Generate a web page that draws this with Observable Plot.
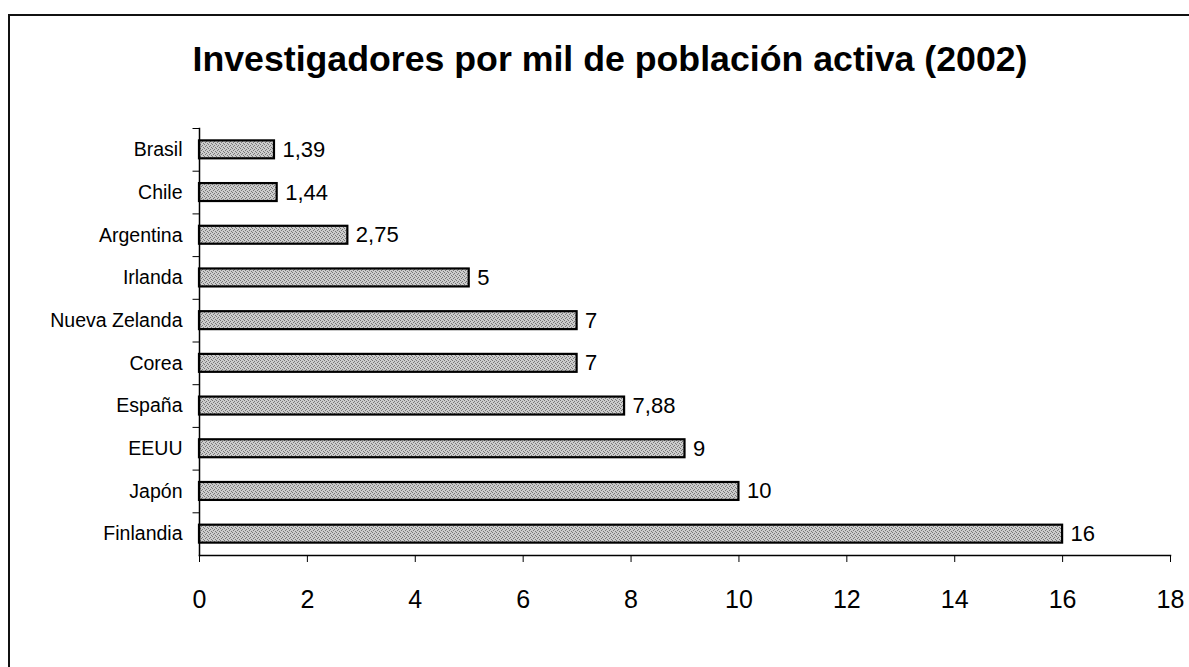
<!DOCTYPE html>
<html>
<head>
<meta charset="utf-8">
<script src="https://cdn.jsdelivr.net/npm/d3@7"></script>
<script src="https://cdn.jsdelivr.net/npm/@observablehq/plot@0.6"></script>
<style>
  html, body { margin: 0; padding: 0; background: #fff; width: 1189px; height: 667px; overflow: hidden; }
  #wrap { position: relative; width: 1189px; height: 667px; font-family: "Liberation Sans", Arial, sans-serif; }
  #border { position: absolute; left: 8px; top: 14px; width: 1300px; height: 800px; border-left: 2px solid #111; border-top: 2px solid #111; }
  #title { position: absolute; left: 0; top: 0; width: 1189px; height: 100px; box-sizing: border-box; padding-left: 31px; text-align: center; font-weight: bold; font-size: 35.7px; line-height: 36px; padding-top: 41px; color: #000; white-space: nowrap; }
  #chart { position: absolute; left: 0; top: 100px; }
</style>
</head>
<body>
<div id="wrap">
  <div id="border"></div>
  <div id="title">Investigadores por mil de población activa (2002)</div>
  <div id="chart"></div>
</div>
<script>
const countries = ["Brasil", "Chile", "Argentina", "Irlanda", "Nueva Zelanda", "Corea", "España", "EEUU", "Japón", "Finlandia"];
const values = [1.39, 1.44, 2.75, 5, 7, 7, 7.88, 9, 10, 16];
const xTicks = [0, 2, 4, 6, 8, 10, 12, 14, 16, 18];

const data = countries.map((c, i) => ({country: c, value: values[i], label: String(values[i]).replace(".", ",")}));

const H = 567, mTop = 28, mBottom = 112;
const bandW = (H - mTop - mBottom) / countries.length;

const plot = Plot.plot({
  width: 1189,
  height: H,
  marginLeft: 199,
  marginRight: 19,
  marginTop: mTop,
  marginBottom: mBottom,
  style: {fontFamily: "'Liberation Sans', Arial, sans-serif", background: "transparent", color: "#000"},
  x: {domain: [0, 18], label: null},
  y: {domain: countries, paddingInner: 0.58, paddingOuter: 0.29, round: false, label: null},
  marks: [
    Plot.barX(data, {x: "value", y: "country", fill: "url(#stipple)", stroke: "#000", strokeWidth: 2.2}),
    Plot.text(data, {x: "value", y: "country", text: "label", textAnchor: "start", dx: 8, fontSize: 22, fill: "#000"}),
    Plot.ruleY(countries, {y: d => d, x1: -0.12, x2: 0, dy: -bandW / 2, stroke: "#000", strokeWidth: 1}),
    Plot.frame({anchor: "left", stroke: "#000", strokeWidth: 1.5}),
    Plot.frame({anchor: "bottom", stroke: "#000", strokeWidth: 1.5}),
    Plot.axisX({ticks: xTicks, tickSize: 7, tickPadding: 28, fontSize: 25, tickFormat: d => String(d), stroke: "#000", label: null}),
    Plot.axisY({tickSize: 0, tickPadding: 17, fontSize: 19.5, label: null})
  ]
});

// stipple pattern for the bars
const ns = "http://www.w3.org/2000/svg";
const defs = document.createElementNS(ns, "defs");
const pat = document.createElementNS(ns, "pattern");
pat.setAttribute("id", "stipple");
pat.setAttribute("width", "4");
pat.setAttribute("height", "4");
pat.setAttribute("patternUnits", "userSpaceOnUse");
const bg = document.createElementNS(ns, "rect");
bg.setAttribute("width", "4"); bg.setAttribute("height", "4"); bg.setAttribute("fill", "#cccccc");
pat.appendChild(bg);
[[0,0],[2,1],[1,2],[3,3]].forEach(([x, y]) => {
  const r = document.createElementNS(ns, "rect");
  r.setAttribute("x", x); r.setAttribute("y", y); r.setAttribute("width", "1"); r.setAttribute("height", "1");
  r.setAttribute("fill", "#777777");
  pat.appendChild(r);
});
defs.appendChild(pat);
plot.insertBefore(defs, plot.firstChild);

document.getElementById("chart").appendChild(plot);
</script>
</body>
</html>
